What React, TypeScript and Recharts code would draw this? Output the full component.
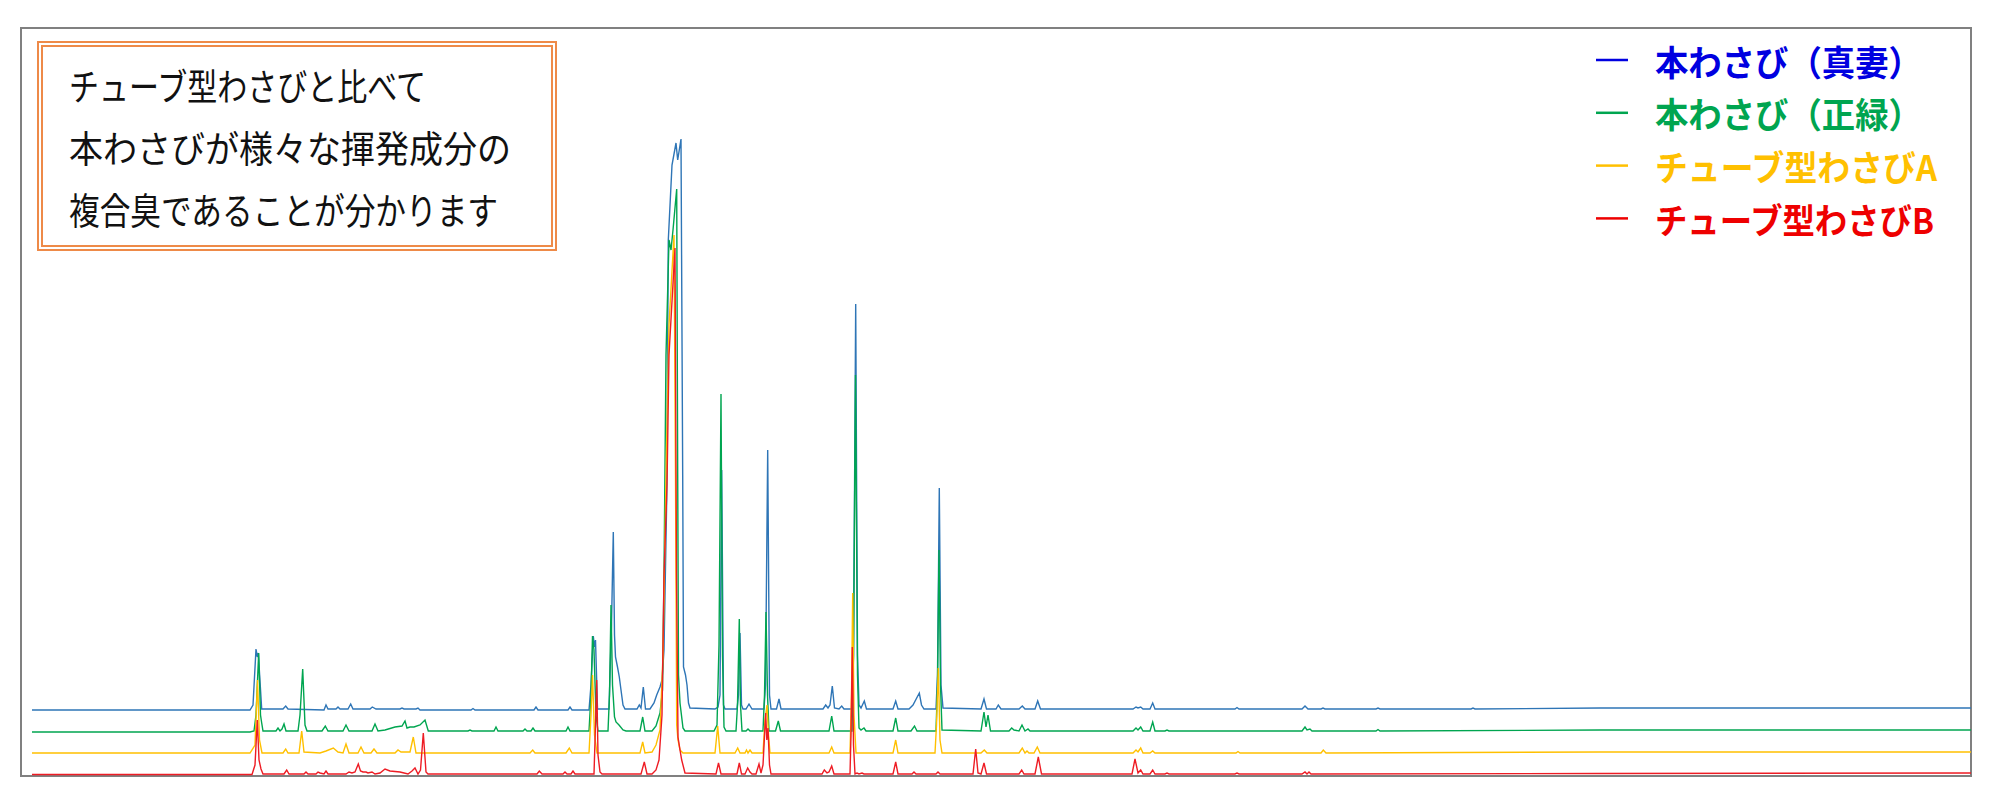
import React from 'react';
import { LineChart, Line, XAxis, YAxis, ReferenceArea, Legend } from 'recharts';

// Stacked chromatograms: [scan, intensity] (intensity includes each trace's stacking offset)
const mazumaTrace: [number, number][] = [
  [32, 65], [250, 65], [253, 70], [256, 126], [257.3, 118], [258.3, 122], [261.7, 66], [283, 66], [285.7, 69], [288, 66],
  [324, 65], [326, 70], [328, 66], [336, 66], [338, 68], [340, 66], [348, 66], [350.7, 71], [353, 66], [370, 66],
  [372.3, 68], [376, 66], [400, 66], [402, 67], [404, 66], [416, 66], [418, 67], [420, 65], [471, 65], [473, 66.5],
  [475, 65], [534, 65], [536, 68], [538, 65], [568, 65], [570, 68], [572, 65], [589, 65], [591, 90], [593.3, 139],
  [594.5, 128], [595.5, 135], [597.5, 66], [609, 66], [611.5, 150], [613.3, 243], [614.5, 140], [615.5, 118], [617.5, 108], [619.3, 98],
  [621, 85], [623, 70], [625, 66], [637, 66], [639.3, 70], [641, 67], [643.3, 88], [645.5, 66], [650, 66], [654, 72],
  [656.7, 80], [660, 88], [662, 95], [664, 125], [666.7, 275], [668.3, 535], [672, 610], [676, 632], [677.7, 615], [681, 636],
  [682.7, 300], [683.5, 108], [685.5, 100], [687, 90], [688.5, 72], [690, 67], [715, 66], [718, 68], [720, 80], [721.7, 305],
  [723.5, 70], [725, 66], [737, 66], [738.5, 80], [740, 142], [741.5, 70], [743, 66], [746, 66], [749, 71], [752, 66],
  [764, 66], [765.5, 90], [767.7, 325], [769.5, 80], [771, 66], [776.5, 66], [779, 76], [781, 66], [823, 66], [825.7, 70],
  [828, 67], [830, 70], [832.3, 89], [834.5, 67], [839, 66], [841.7, 69], [844, 66], [852, 66], [853.5, 120], [855.7, 471],
  [857.5, 120], [859, 70], [861, 67], [864.3, 74], [866.5, 66], [893, 66], [895.7, 74], [898, 66], [909, 66], [913, 70],
  [919.3, 82], [921.5, 70], [924, 66], [936, 66], [937.5, 100], [939.3, 287], [941, 90], [943, 67], [981, 66], [984, 76],
  [986.5, 66], [996, 66], [998.3, 70], [1001, 66], [1019, 66], [1022.3, 69], [1025, 66], [1035, 66], [1037.7, 74], [1040.5, 66],
  [1133, 66], [1136, 68], [1138, 67], [1140.7, 68], [1143, 66], [1150, 66], [1152.7, 72], [1155, 66], [1235, 66], [1237, 67.5],
  [1239, 66], [1302, 66], [1305, 69], [1308, 66], [1321, 66], [1323, 67], [1325, 66], [1376, 66], [1378, 67], [1380, 66],
  [1471, 66], [1473, 67], [1475, 66], [1600, 67], [1971, 67],
];

const masamidoriTrace: [number, number][] = [
  [32, 43], [250, 43], [254, 44], [256, 60], [258.7, 122], [260.5, 60], [261.7, 52], [263, 44], [276, 44], [278, 47],
  [280, 44], [282, 46], [284, 51], [286, 44], [298, 44], [300, 60], [302.7, 106], [305, 50], [307, 44], [322, 44],
  [325.3, 49], [328, 44], [343, 44], [346, 50], [349, 44], [372, 44], [375, 51], [378, 44], [385, 45], [395, 48],
  [402, 49], [405, 54], [407, 47], [410, 48], [414, 48], [420, 50], [425, 55], [428.3, 44], [468, 44], [470, 45],
  [472, 44], [494, 44], [496, 48], [498, 44], [523, 44], [525, 46], [527, 44], [531, 44], [533, 47], [535, 44],
  [566, 44], [568, 48], [570, 44], [589, 44], [591, 80], [592.5, 139], [594, 125], [596, 60], [598, 44], [608, 44],
  [609.5, 80], [611, 170], [612.5, 90], [614.5, 58], [616, 53], [619, 50], [623, 45], [626, 44], [640, 44], [642.7, 58],
  [645, 44], [652, 44], [656, 49], [660, 62], [662.5, 85], [664, 200], [666, 420], [669, 535], [671, 525], [673, 545],
  [676.7, 586], [677.7, 300], [678.5, 100], [680, 72], [683, 47], [685, 44], [714, 44], [717, 50], [719, 130], [721, 381],
  [722.5, 120], [724, 48], [726, 44], [736, 44], [737.5, 70], [739.3, 156], [740.5, 70], [742, 44], [746, 44], [748, 46],
  [750, 44], [763, 44], [764.5, 80], [766, 163], [767.5, 80], [769, 44], [775.5, 44], [778.3, 54], [780.5, 44], [829, 44],
  [831.7, 59], [834, 44], [852, 44], [853.5, 120], [855.5, 400], [857.5, 100], [859, 47], [861, 45], [864, 47], [866, 44],
  [893, 44], [895.7, 57], [898, 44], [911, 44], [914.5, 49], [917, 44], [936, 44], [937.5, 90], [939, 225], [940.5, 90],
  [942, 45], [981, 44], [984, 63], [986, 48], [988, 60], [990.5, 44], [1009, 44], [1011.7, 47], [1014, 45], [1019, 44],
  [1022, 50], [1025, 44], [1028, 46], [1030, 44], [1133, 44], [1136, 47], [1138, 45], [1140.7, 48], [1143, 44], [1150, 44],
  [1152.7, 53], [1155, 44], [1165, 44], [1167, 45], [1169, 44], [1302, 44], [1305, 48], [1307, 45], [1310, 46], [1312, 44],
  [1376, 44], [1378, 45.5], [1380, 44], [1600, 45], [1971, 45],
];

const tubeATrace: [number, number][] = [
  [32, 22], [250, 22], [255, 30], [257.5, 95], [259.5, 35], [262, 22], [283, 22], [285.7, 26], [288, 22], [299, 22],
  [301.7, 44], [304, 23], [320, 22], [326, 24], [333.3, 27], [338, 23], [343, 22], [346, 31], [349, 22], [358, 22],
  [361, 28], [364, 22], [371, 22], [374, 26], [377, 22], [395, 22], [398, 25], [401, 23], [410, 23], [413.3, 38],
  [416, 22], [530, 22], [532.7, 25], [535, 22], [566, 22], [569.3, 27], [572, 22], [589, 22], [591, 60], [592.5, 100],
  [594.5, 40], [597, 22], [640, 22], [642.7, 33], [645, 22], [652, 23], [656, 30], [660, 45], [663, 120], [666, 300],
  [669, 450], [674, 540], [675.5, 300], [676.7, 50], [678, 35], [680, 25], [683, 22], [715, 22], [717.7, 49], [720, 22],
  [735, 22], [737.7, 27], [740, 22], [745, 22], [746.5, 25], [748, 22], [750, 25], [752, 22], [763, 22], [765, 55],
  [767, 70], [768.5, 40], [770, 22], [829, 22], [831.7, 28], [834, 22], [850, 22], [851.5, 80], [852.7, 182], [854, 60],
  [856, 22], [893, 22], [895.7, 35], [898, 22], [935, 22], [936.5, 50], [938.3, 107], [940, 35], [942, 22], [981, 22],
  [984.3, 25], [987, 22], [1019, 22], [1022.3, 27], [1025, 22], [1027, 24], [1029, 22], [1034, 22], [1037.3, 28], [1040, 22],
  [1133, 22], [1136, 25], [1138, 23], [1140.7, 27], [1143, 22], [1150, 22], [1152.7, 24], [1155, 22], [1236, 22], [1238, 23.5],
  [1240, 22], [1321, 22], [1323.3, 25], [1326, 22], [1600, 23], [1971, 23],
];

const tubeBTrace: [number, number][] = [
  [32, 0.5], [252, 0.5], [255, 10], [257.3, 55], [259, 15], [261, 6], [263, 1], [284, 1], [286.7, 5], [289, 1],
  [304, 1], [306, 3], [308, 1], [316, 1], [318, 3], [320, 2], [324, 1], [326, 4], [328, 1], [346, 1],
  [349, 3], [352, 2], [355, 3], [358.3, 11], [360.5, 4], [363, 3], [366, 3], [368, 2], [372, 3], [375, 1],
  [380, 2], [385, 6], [390, 4], [400, 3], [408, 1], [412, 4], [415, 7], [418, 1], [420.5, 5], [423.3, 42],
  [426, 3], [428, 1], [537, 1], [539.3, 4], [542, 1], [563, 1], [565, 3], [567, 1], [571, 1], [573, 4],
  [575, 1], [594, 1], [595.5, 50], [596.7, 95], [598, 20], [600, 3], [602, 1], [641, 1], [644.3, 13], [647, 1],
  [652, 1], [656, 5], [659, 15], [662, 60], [664, 200], [667, 290], [669, 420], [675, 527], [676.5, 200], [678, 38],
  [680, 25], [681.7, 15], [685, 2], [716, 1], [718.5, 12], [721, 1], [737, 1], [739.3, 12], [741.5, 1], [745, 1],
  [747.7, 7], [750, 3], [752, 1], [756, 1], [759, 11], [761, 2], [763, 10], [765.7, 62], [766.8, 35], [768, 47],
  [769.5, 10], [771, 1], [822, 1], [824.3, 5], [827, 2], [829, 3], [831.7, 9], [834, 1], [850, 1], [851, 40],
  [852.3, 128], [853.5, 30], [855, 1], [857, 2], [859, 1], [862, 2], [864, 1], [893, 1], [895.7, 13], [898, 1],
  [912, 1], [914, 3], [916, 1], [936, 1], [938, 3], [940, 1], [973, 1], [975.7, 26], [978, 2], [981, 1],
  [984, 12], [986.5, 1], [1019, 1], [1021.7, 5], [1024, 1], [1035, 1], [1038.3, 18], [1041.5, 1], [1132, 1], [1135, 16],
  [1138, 2], [1140.7, 5], [1143, 1], [1150, 1], [1152.7, 5], [1155, 1], [1165, 1], [1167, 2], [1169, 1], [1235, 1],
  [1237, 2], [1239, 1], [1302, 1], [1305, 3], [1307, 1], [1309, 3], [1311, 1], [1600, 1.5], [1971, 2],
];

const seriesNames = ['本わさび（真妻）', '本わさび（正緑）', 'チューブ型わさびA', 'チューブ型わさびB'];
const lineColors = ['#2E75B6', '#00A550', '#FFC000', '#EE1C24'];
const legendColors = ['#0000E0', '#00A550', '#FFC000', '#EE0000'];
const legendWidths = [267, 267, 282, 279];
const noteLines = ['チューブ型わさびと比べて', '本わさびが様々な揮発成分の', '複合臭であることが分かります'];
const noteWidths = [357, 442, 429];

const scanDomain: [number, number] = [21, 1971];
const intensityDomain: [number, number] = [-1, 747];

const traces = [mazumaTrace, masamidoriTrace, tubeATrace, tubeBTrace].map((t) => t.map(([x, v]) => ({ x, v })));

const FONT = '"Noto Sans CJK JP", "Noto Sans", sans-serif';

const LegendContent = () => (
  <svg width={370} height={210} style={{ display: 'block', overflow: 'visible' }}>
    {seriesNames.map((n, i) => (
      <g key={n}>
        <line x1={2} x2={34} y1={25 + i * 52.8} y2={25 + i * 52.8} stroke={legendColors[i]} strokeWidth={2.5} />
        <text x={61} y={25 + i * 52.8} fill={legendColors[i]} fontFamily={FONT} fontSize={35} fontWeight={700} dominantBaseline="central" textLength={legendWidths[i]} lengthAdjust="spacingAndGlyphs">
          {n}
        </text>
      </g>
    ))}
  </svg>
);

export default function App() {
  return (
    <div style={{ position: 'relative', width: 1973, height: 784, background: '#fff' }}>
      <LineChart width={1973} height={784} margin={{ top: 20, right: 10, bottom: 16, left: 13 }}>
        <XAxis type="number" dataKey="x" domain={scanDomain} hide allowDataOverflow />
        <YAxis type="number" domain={intensityDomain} hide allowDataOverflow />
        <ReferenceArea x1={scanDomain[0]} x2={scanDomain[1]} y1={intensityDomain[0]} y2={intensityDomain[1]} fill="none" fillOpacity={0} stroke="#808080" strokeWidth={2} strokeOpacity={1} />
        {traces.map((d, i) => (
          <Line
            key={seriesNames[i]}
            data={d}
            dataKey="v"
            name={seriesNames[i]}
            type="linear"
            stroke={lineColors[i]}
            strokeWidth={1.4}
            dot={false}
            activeDot={false}
            isAnimationActive={false}
          />
        ))}
        <Legend layout="vertical" align="center" verticalAlign="middle" content={<LegendContent />} wrapperStyle={{ left: 1586, top: 27, width: 370 }} />
      </LineChart>
      <div style={{ position: 'absolute', left: 28.5, top: 33, width: 520, height: 210, boxSizing: 'border-box', border: '6px double #EE8A48' }}>
        <svg width={508} height={198} style={{ position: 'absolute', left: 0, top: 0, overflow: 'visible' }}>
          {noteLines.map((t, i) => (
            <text key={t} x={26} y={38 + i * 62} fontFamily={FONT} fontSize={37} fill="#111" dominantBaseline="central" textLength={noteWidths[i]} lengthAdjust="spacingAndGlyphs">
              {t}
            </text>
          ))}
        </svg>
      </div>
    </div>
  );
}
